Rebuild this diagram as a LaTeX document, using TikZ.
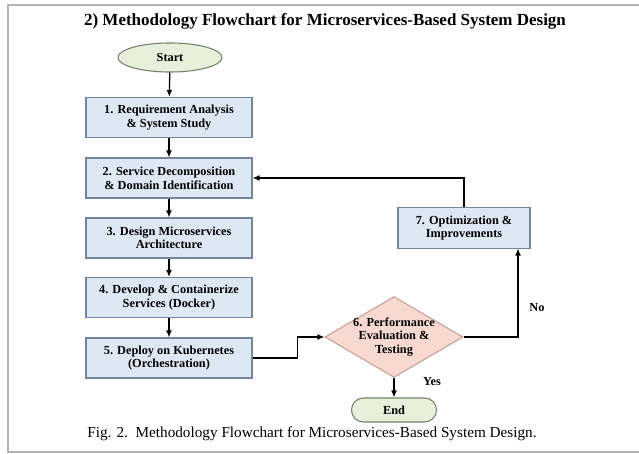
\documentclass[tikz,border=0pt]{standalone}
\usepackage{fontspec}
\setmainfont{Liberation Serif}
\usepackage{tikz}
\usetikzlibrary{arrows.meta}
\usetikzlibrary{shapes.geometric}
\usetikzlibrary{positioning}
\definecolor{sgreen}{rgb}{0.91, 0.94, 0.86}
\definecolor{sgreenline}{rgb}{0.45, 0.50, 0.42}
\definecolor{sblue}{rgb}{0.87, 0.91, 0.96}
\definecolor{sblueline}{rgb}{0.45, 0.52, 0.62}
\definecolor{spink}{rgb}{0.97, 0.85, 0.82}
\definecolor{spinkline}{rgb}{0.78, 0.62, 0.59}
\definecolor{sframe}{rgb}{0.70, 0.70, 0.70}
\tikzset{stepbox/.style = {rectangle, draw=sblueline, fill=sblue, line width=0.9pt,
                           minimum width=141.7pt, minimum height=34.1pt, inner sep=0pt,
                           align=center, font=\fontsize{10.5}{11.6}\selectfont\bfseries},
         terminal/.style = {draw=sgreenline, fill=sgreen, line width=0.9pt,
                            inner sep=0pt, font=\fontsize{10.5}{12}\selectfont\bfseries},
         decision/.style = {diamond, draw=spinkline, fill=spink, line width=0.9pt,
                            minimum width=117.8pt, minimum height=69.1pt, inner sep=0pt},
         flow/.style = {-{Latex[length=6pt, width=5pt]}, line width=1.1pt}}

\begin{document}
\begin{tikzpicture}[x=0.03cm, y=-0.03cm]
    \useasboundingbox (0, 0) rectangle (639, 454);
    % page frame
    \draw [sframe, line width=1.6pt] (700, 5) -- (8, 5) -- (8, 452) -- (700, 452);

    \node (title) at (325, 21) {\fontsize{14.5}{17}\selectfont\bfseries
        2) Methodology Flowchart for Microservices-Based System Design};

    \node [terminal, ellipse, minimum width=88.8pt, minimum height=24.8pt] (start) at (170, 57.5) {Start};
    \node [stepbox] (req) at (169, 117.5) {1. Requirement Analysis\\ \& System Study};
    \node [stepbox] (decomp) at (169, 178) {2. Service Decomposition\\ \& Domain Identification};
    \node [stepbox] (arch) at (169, 238) {3. Design Microservices\\ Architecture};
    \node [stepbox] (dev) at (169, 297.5) {4. Develop \& Containerize\\ Services (Docker)};
    \node [stepbox] (deploy) at (169, 358) {5. Deploy on Kubernetes\\ (Orchestration)};
    % text of the diamond sits on top so the shape keeps its size
    \node [decision, label={[align=center, font=\fontsize{10.5}{11.6}\selectfont\bfseries]center:6. Performance\\ Evaluation \&\\ Testing}] (perf) at (394, 337) {};
    \node [stepbox, minimum width=112.7pt, minimum height=35pt] (optim) at (464, 228) {7. Optimization \&\\ Improvements};
    \node [terminal, rectangle, rounded corners=10.2pt, minimum width=72.6pt, minimum height=20.5pt] (end) at (394, 410) {End};

    \node (no) at (537, 308) {\fontsize{10.5}{12}\selectfont\bfseries No};
    \node (yes) at (432, 382) {\fontsize{10.5}{12}\selectfont\bfseries Yes};
    \coordinate (noin) at (518, 248.5);

    \draw [flow] (start) -- (req);
    \draw [flow] (req) -- (decomp);
    \draw [flow] (decomp) -- (arch);
    \draw [flow] (arch) -- (dev);
    \draw [flow] (dev) -- (deploy);
    \draw [flow] (deploy.east) -- ++(45, 0) |- (perf.west);
    \draw [flow] (perf.east) -| (noin);
    \draw [flow] (optim.north) |- (decomp.east);
    \draw [flow] (perf.south) -- (end.north);

    \node (caption) at (312, 434) {\fontsize{13}{15}\selectfont
        Fig. 2.\ \ Methodology Flowchart for Microservices-Based System Design.};
  \end{tikzpicture}
\end{document}
